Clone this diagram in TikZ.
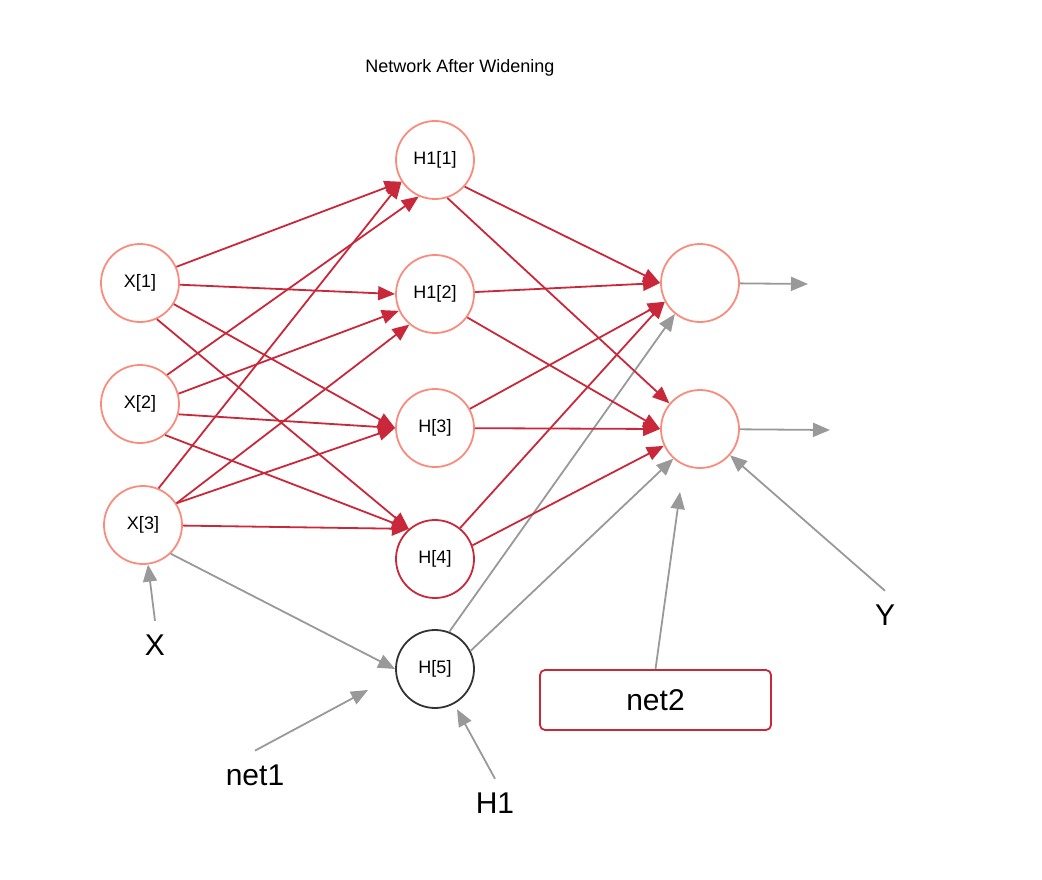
\documentclass[tikz,border=0pt]{standalone}
\usepackage{fontspec}
\setmainfont{Liberation Sans}
\usepackage{tikz}
\usetikzlibrary{arrows.meta, positioning}

\definecolor{salmon}{RGB}{250,140,125}
\definecolor{netred}{RGB}{200,40,58}
\definecolor{edgegrey}{RGB}{153,153,153}
\definecolor{ringgrey}{RGB}{51,51,51}

\begin{document}
\begin{tikzpicture}[
            x=1pt, y=-1pt,
            ->,
            >={Triangle[length=17pt,width=14pt]},
            line width=1.8pt,
            node distance=134pt,
            neuron/.style={circle, draw=salmon, line width=1.8pt, minimum size=78pt,
                           inner sep=0pt, font=\fontsize{18}{21}\selectfont},
            redline/.style={color=netred},
            greyline/.style={color=edgegrey},
            bigtext/.style={font=\fontsize{30}{34}\selectfont, inner sep=13pt}]
            \useasboundingbox (0,0) rectangle (1042,880);

            \node [font=\fontsize{18}{21}\selectfont] (title) at (460,68) {Network After Widening};

            % input layer
            \node [neuron] (x1) at (140,283) {X[1]};
            \node [neuron] (x2) [below of = x1, node distance=121pt] {X[2]};
            \node [neuron] (x3) at (143,525) {X[3]};

            % hidden layer
            \node [neuron] (h11) at (435,160) {H1[1]};
            \node [neuron] (h12) [below of = h11] {H1[2]};
            \node [neuron] (h3) [below of = h12] {H[3]};
            \node [neuron, draw=netred] (h4) [below of = h3, node distance=131pt] {H[4]};
            \node [neuron, draw=ringgrey] (h5) [below of = h4, node distance=110pt] {H[5]};

            % output layer
            \node [neuron] (o1) at (700,283) {};
            \node [neuron] (o2) [below of = o1, node distance=146pt] {};
            \coordinate (o1end) at (808,284);
            \coordinate (o2end) at (830,430);

            \node [rectangle, draw=netred, rounded corners=5pt, minimum width=231pt,
                   minimum height=60pt, font=\fontsize{30}{34}\selectfont] (net2) at (655.5,700) {net2};
            \coordinate (net2tip) at (680,492);

            \node [bigtext] (xlbl) at (155,645) {X};
            \node [bigtext] (net1lbl) at (255,775) {net1};
            \coordinate (net1tip) at (368,690);
            \node [bigtext] (h1lbl) at (495,803) {H1};
            \node [bigtext] (ylbl) at (885,615) {Y};

            \path [greyline] (x3.-46) edge (h5.west)
                  (h5.69) edge (o1.231)
                  (h5.27) edge (o2.228)
                  (o1) edge (o1end)
                  (o2) edge (o2end)
                  (xlbl.north) edge (x3)
                  (net1lbl.north) edge (net1tip)
                  (h1lbl.north) edge [shorten >=6pt] (h5)
                  (net2.north) edge (net2tip)
                  (ylbl.north) edge (o2);

            \path [redline] (x1.24) edge (h11.213)
                       (x1) edge (h12.west)
                       (x1.-32) edge (h3.west)
                       (x1.-65) edge (h4.131)
                  (x2.47) edge (h11.246)
                       (x2.15) edge (h12.205)
                       (x2.-15) edge (h3.west)
                       (x2.-51) edge (h4.131)
                  (x3.67) edge (h11.213)
                       (x3.33) edge (h12.230)
                       (x3.33) edge (h3.west)
                       (x3) edge (h4.131)
                  (h11.-42) edge (o1.west)
                       (h11.-72) edge (o2.140)
                  (h12) edge (o1.west)
                       (h12.-36) edge (o2.west)
                  (h3) edge (o1.208)
                       (h3) edge (o2.west)
                  (h4.51) edge (o1.208)
                       (h4.20) edge (o2.205);

        \end{tikzpicture}
\end{document}
